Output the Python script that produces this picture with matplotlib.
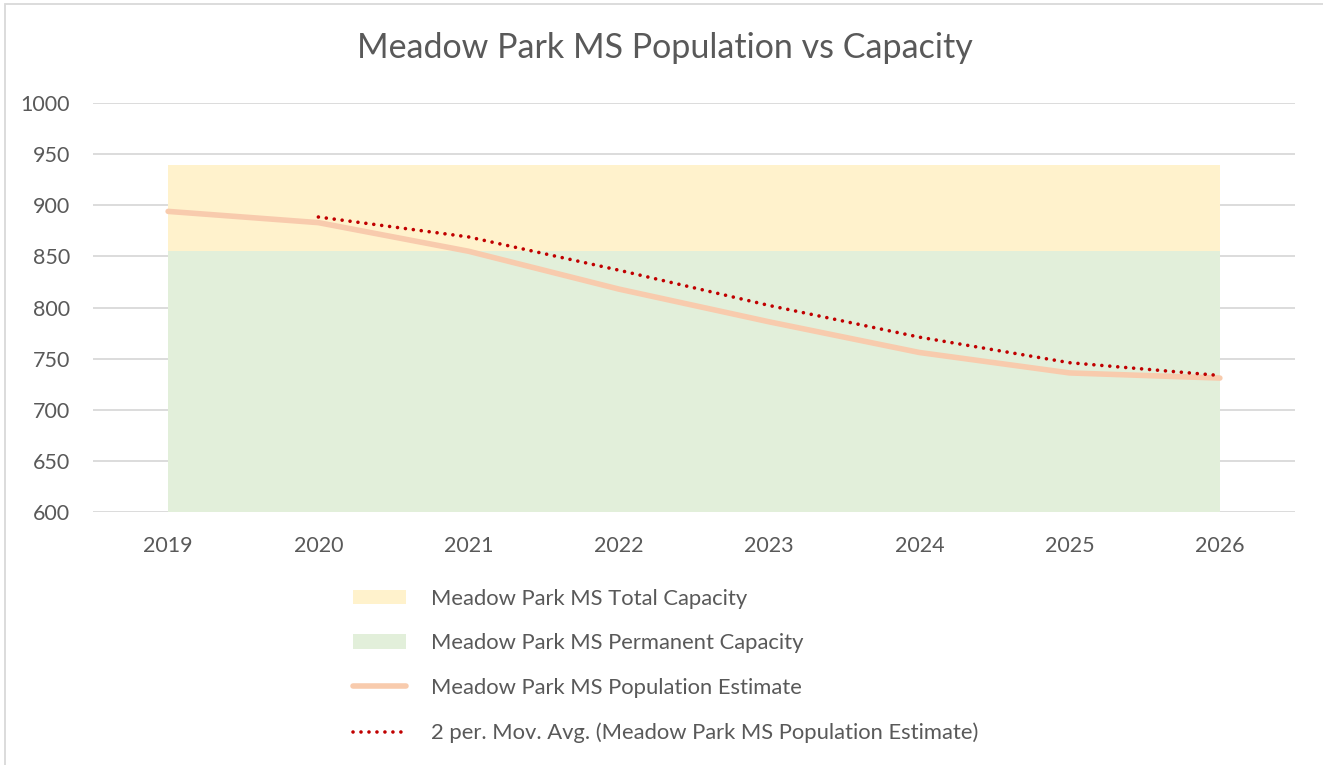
import numpy as np
import pandas as pd
import matplotlib
matplotlib.use("Agg")
import matplotlib.pyplot as plt
from matplotlib.patches import Rectangle

years = ["2019", "2020", "2021", "2022", "2023", "2024", "2025", "2026"]
total_capacity = [939, 939, 939, 939, 939, 939, 939, 939]
permanent_capacity = [855, 855, 855, 855, 855, 855, 855, 855]
population = [894, 883, 855, 818, 786, 756, 736, 731]

# Excel's 2-period moving average trendline
mov_avg = pd.Series(population).rolling(2).mean()

plt.rcParams['font.family'] = ['Lato', 'DejaVu Sans']
text_color = '#595959'

fig = plt.figure(figsize=(13.23, 7.65), dpi=100)
ax = fig.add_axes([93 / 1323, 1 - 512 / 765, (1295 - 93) / 1323, (512 - 103) / 765])

x = np.arange(len(years))
ax.fill_between(x, total_capacity, 0, color='#FFF2CC', lw=0, zorder=2,
                label='Meadow Park MS Total Capacity')
ax.fill_between(x, permanent_capacity, 0, color='#E2EFDA', lw=0, zorder=3,
                label='Meadow Park MS Permanent Capacity')
ax.plot(x, population, color='#F8CBAD', lw=4, solid_capstyle='round', zorder=4,
        label='Meadow Park MS Population Estimate')
ax.plot(x, mov_avg, color='#C00000', lw=2.6, linestyle=(0, (0.01, 2.2)),
        dash_capstyle='round', zorder=5,
        label='2 per. Mov. Avg. (Meadow Park MS Population Estimate)')

ax.set_xlim(-0.5, len(years) - 0.5)
ax.set_ylim(600, 1000)
ax.set_yticks(np.arange(600, 1001, 50))
ax.set_xticks(x)
ax.set_xticklabels(years)
ax.grid(axis='y', color='#D9D9D9', lw=1.3, zorder=0)
ax.set_axisbelow(True)
for s in ax.spines.values():
    s.set_visible(False)
ax.tick_params(length=0, labelsize=15.5, colors=text_color)
ax.tick_params(axis='x', pad=17)
ax.tick_params(axis='y', pad=16.5)

fig.text(665 / 1323, 1 - 48 / 765, 'Meadow Park MS Population vs Capacity',
         ha='center', va='center', fontsize=24.5, color=text_color)

leg = ax.legend(loc='upper left', bbox_to_anchor=(333 / 1323, 1 - 569 / 765),
                bbox_transform=fig.transFigure, frameon=False, fontsize=15.8,
                handlelength=2.42, handleheight=0.64, handletextpad=1.14,
                labelspacing=1.12)
for t in leg.get_texts():
    t.set_color(text_color)

# light chart border like the Excel frame
fig.patches.append(Rectangle((5 / 1323, -0.1), 1.2, 1 - 4 / 765 + 0.1,
                             transform=fig.transFigure, fill=False,
                             edgecolor='#D9D9D9', lw=1.3))

fig.savefig('out.png', dpi=100)
